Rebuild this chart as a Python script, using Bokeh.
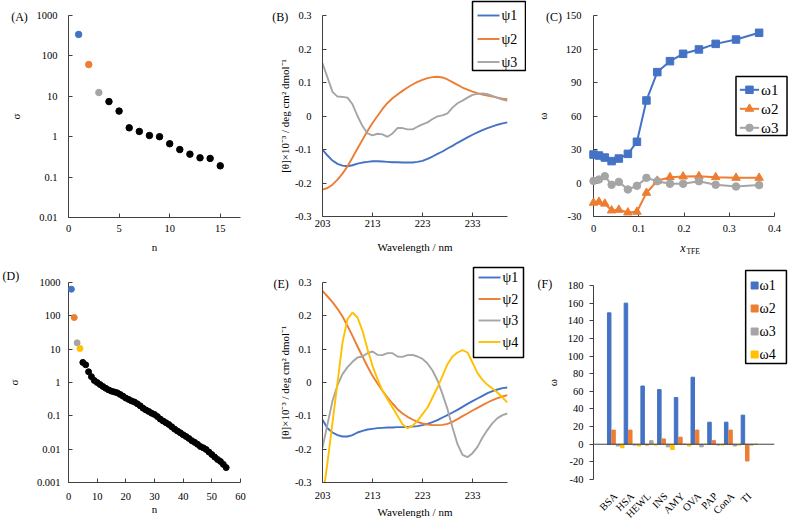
import math
from bokeh.plotting import figure
from bokeh.layouts import row, column
from bokeh.models import Range1d, FixedTicker, CustomJSTickFormatter, Span
from bokeh.core.properties import value
from bokeh.embed import file_html
from bokeh.resources import INLINE

# ---------------- data ----------------
# (A) singular values, first data set
a_n = [1, 2, 3, 4, 5, 6, 7, 8, 9, 10, 11, 12, 13, 14, 15]
a_sigma = [340, 61, 12.4, 7.4, 4.3, 1.66, 1.35, 1.07, 1.0, 0.67, 0.48, 0.37, 0.30, 0.29, 0.19]

# (B) basis spectra psi1..psi3
wl = [203, 204, 205, 206, 207, 208, 209, 210, 211, 212, 213, 214, 215, 216, 217, 218, 219,
      220, 221, 222, 223, 224, 225, 226, 227, 228, 229, 230, 231, 232, 233, 234, 235, 236,
      237, 238, 239, 240]
b_psi1 = [-0.100, -0.118, -0.133, -0.143, -0.148, -0.150, -0.147, -0.142, -0.139, -0.137,
          -0.135, -0.135, -0.136, -0.137, -0.138, -0.138, -0.139, -0.139, -0.139, -0.137,
          -0.134, -0.128, -0.121, -0.113, -0.106, -0.097, -0.089, -0.080, -0.072, -0.064,
          -0.056, -0.049, -0.042, -0.036, -0.031, -0.026, -0.022, -0.019]
b_psi2 = [-0.220, -0.215, -0.205, -0.190, -0.172, -0.150, -0.124, -0.097, -0.071, -0.045,
          -0.021, 0.000, 0.021, 0.039, 0.053, 0.064, 0.075, 0.085, 0.094, 0.102, 0.108,
          0.113, 0.116, 0.117, 0.115, 0.109, 0.101, 0.093, 0.085, 0.079, 0.073, 0.068,
          0.064, 0.061, 0.058, 0.055, 0.052, 0.050]
b_psi3 = [0.157, 0.115, 0.072, 0.058, 0.057, 0.055, 0.035, 0.000, -0.030, -0.052, -0.058,
          -0.053, -0.055, -0.062, -0.052, -0.036, -0.036, -0.040, -0.040, -0.032, -0.025,
          -0.019, -0.009, -0.001, 0.002, 0.008, 0.025, 0.038, 0.046, 0.055, 0.063, 0.066,
          0.067, 0.065, 0.060, 0.054, 0.049, 0.045]

# (C) weights vs TFE mole fraction
c_x = [0, 0.012, 0.025, 0.040, 0.056, 0.076, 0.096, 0.117, 0.141, 0.169, 0.198, 0.233,
       0.270, 0.315, 0.366]
c_w1 = [25.5, 24.6, 22.8, 19.6, 21.9, 26.1, 36.9, 73.9, 99.3, 109.1, 115.7, 119.6, 124.6,
        128.5, 134.5]
c_w2 = [-17.7, -16.9, -18.5, -24.6, -24.0, -26.4, -25.8, -8.8, 2.0, 5.2, 5.8, 6.1, 5.2,
        4.6, 4.6]
c_w3 = [1.9, 3.1, 6.1, -1.6, 1.0, -5.8, -2.5, 4.6, 1.6, -0.7, -0.7, 1.6, -1.6, -3.1, -1.9]

# (D) singular values, protein data set
d_n = list(range(1, 56))
d_sigma = [630, 89, 15.5, 10.5, 4.0, 3.4, 2.1, 1.5, 1.15, 1.0, 0.87, 0.76, 0.67, 0.60,
           0.55, 0.52, 0.49, 0.44, 0.39, 0.34, 0.31, 0.28, 0.26, 0.23, 0.20, 0.17, 0.15,
           0.135, 0.12, 0.11, 0.095, 0.08, 0.07, 0.062, 0.055, 0.047, 0.04, 0.035, 0.031,
           0.027, 0.024, 0.021, 0.018, 0.016, 0.014, 0.012, 0.011, 0.0098, 0.0082, 0.0069,
           0.0058, 0.0049, 0.0043, 0.0035, 0.0028]

# (E) basis spectra psi1..psi4
e_psi1 = [-0.112, -0.137, -0.150, -0.158, -0.162, -0.162, -0.158, -0.150, -0.145, -0.141,
          -0.139, -0.137, -0.136, -0.135, -0.135, -0.134, -0.134, -0.133, -0.132, -0.131,
          -0.128, -0.124, -0.119, -0.113, -0.105, -0.098, -0.090, -0.082, -0.073, -0.064,
          -0.056, -0.048, -0.040, -0.032, -0.026, -0.021, -0.017, -0.015]
e_psi2 = [0.275, 0.258, 0.241, 0.221, 0.198, 0.170, 0.140, 0.108, 0.078, 0.048, 0.020,
          -0.003, -0.025, -0.045, -0.063, -0.080, -0.093, -0.103, -0.111, -0.118, -0.123,
          -0.126, -0.128, -0.128, -0.127, -0.124, -0.118, -0.110, -0.101, -0.093, -0.084,
          -0.076, -0.068, -0.060, -0.053, -0.047, -0.042, -0.038]
e_psi3 = [-0.195, -0.125, -0.055, -0.008, 0.025, 0.046, 0.062, 0.075, 0.078, 0.088, 0.093,
          0.083, 0.082, 0.088, 0.088, 0.078, 0.077, 0.082, 0.083, 0.078, 0.071, 0.057,
          0.036, 0.006, -0.035, -0.080, -0.135, -0.185, -0.217, -0.224, -0.212, -0.193,
          -0.165, -0.142, -0.122, -0.107, -0.098, -0.093]
e_psi4 = [-0.350, -0.240, -0.120, 0.000, 0.120, 0.190, 0.210, 0.195, 0.155, 0.100, 0.050,
          0.010, -0.025, -0.050, -0.075, -0.100, -0.125, -0.137, -0.130, -0.115, -0.095,
          -0.075, -0.045, -0.015, 0.020, 0.055, 0.078, 0.090, 0.097, 0.090, 0.060, 0.028,
          0.008, -0.007, -0.018, -0.030, -0.045, -0.060]

# (F) weights per protein
proteins = ["BSA", "HSA", "HEWL", "INS", "AMY", "OVA", "PAP", "ConA", "TI"]
f_w1 = [149, 160, 66, 62, 53, 76, 25, 25, 33]
f_w2 = [16, 16, -1, 6, 8, 16, 4, 16, -19]
f_w3 = [-2, -1, 4, -3, 0, -3, -1, -2, -1]
f_w4 = [-4, -2, -1, -6, -2, 0, -1, -1, 0]

# ---------------- style ----------------
BLUE, ORANGE, GRAY, YELLOW, BLACK = "#4472C4", "#ED7D31", "#A5A5A5", "#FFC000", "#000000"
AX = "#404040"
SERIF = "Liberation Serif"
TICK_FS = "10.5px"
LW = 1.9
FMT = CustomJSTickFormatter(code="return String(Math.round(tick*1e6)/1e6);")


class Geo:
    """frame geometry in page pixels plus data ranges (for placing overlay items)"""
    def __init__(self, L, T, W, H, x0, x1, y0, y1, ylog=False):
        self.L, self.T, self.W, self.H = L, T, W, H
        self.x0, self.x1, self.y0, self.y1, self.ylog = x0, x1, y0, y1, ylog

    def dx(self, px):
        return self.x0 + (px - self.L) / self.W * (self.x1 - self.x0)

    def dy(self, py):
        f = (self.T + self.H - py) / self.H
        if self.ylog:
            a, b = math.log10(self.y0), math.log10(self.y1)
            return 10 ** (a + f * (b - a))
        return self.y0 + f * (self.y1 - self.y0)


def panel(fig_x, fig_y, width, height, g):
    left, top = g.L - fig_x, g.T - fig_y
    p = figure(width=width, height=height,
               x_range=Range1d(g.x0, g.x1), y_range=Range1d(g.y0, g.y1),
               y_axis_type="log" if g.ylog else "linear",
               output_backend="svg", toolbar_location=None,
               min_border_left=left, min_border_right=width - left - g.W,
               min_border_top=top, min_border_bottom=height - top - g.H)
    p.outline_line_color = None
    p.grid.visible = False
    p.background_fill_color = "white"
    p.border_fill_color = "white"
    for ax in p.axis:
        ax.axis_line_color = AX
        ax.axis_line_width = 1
        ax.major_tick_line_color = AX
        ax.minor_tick_line_color = None
        ax.major_tick_in = 4
        ax.major_tick_out = 0
        ax.major_label_text_font = SERIF
        ax.major_label_text_font_size = TICK_FS
        ax.major_label_text_color = "black"
        ax.axis_label_text_font = SERIF
        ax.axis_label_text_font_style = "normal"
        ax.axis_label_text_font_size = "11px"
        ax.axis_label_text_color = "black"
        ax.formatter = FMT
    return p


def put_text(p, g, px, py, text, size="12px", style="normal"):
    p.text(x=[g.dx(px)], y=[g.dy(py)], text=[text], text_font=value(SERIF),
           text_font_size=value(size), text_font_style=value(style),
           text_align=value("left"), text_baseline=value("middle"),
           text_color="black", level="overlay")


def legend_box(p, g, l, t, r, b):
    p.quad(left=[g.dx(l)], right=[g.dx(r)], top=[g.dy(t)], bottom=[g.dy(b)],
           fill_color="white", line_color="black", line_width=1.5, level="overlay")


# ---------------- (A) ----------------
gA = Geo(62, 15, 180, 202, 0, 17, 0.01, 1000, ylog=True)
pa = panel(0, 0, 266, 262, gA)
pa.xaxis.ticker = FixedTicker(ticks=[0, 5, 10, 15])
pa.yaxis.ticker = FixedTicker(ticks=[0.01, 0.1, 1, 10, 100, 1000])
pa.xaxis.axis_label = "n"
pa.yaxis.axis_label = "σ"
pa.yaxis.major_label_standoff = 11
pa.yaxis.axis_label_standoff = 12
pa.xaxis.major_label_standoff = 7
pa.xaxis.axis_label_standoff = 6
a_colors = [BLUE, ORANGE, GRAY] + [BLACK] * (len(a_n) - 3)
pa.scatter(a_n, a_sigma, size=6.5, color=a_colors, level="overlay")
put_text(pa, gA, 2, 16, "(A)")

# ---------------- (B) ----------------
gB = Geo(322, 15, 185, 201, 203, 240, -0.3, 0.3)
pb = panel(266, 0, 260, 262, gB)
pb.xaxis.ticker = FixedTicker(ticks=[203, 213, 223, 233])
pb.yaxis.ticker = FixedTicker(ticks=[-0.3, -0.2, -0.1, 0, 0.1, 0.2, 0.3])
pb.xaxis.axis_label = "Wavelength / nm"
pb.yaxis.axis_label = "[θ]×10⁻³ / deg cm² dmol⁻¹"
pb.yaxis.major_label_standoff = 11
pb.yaxis.axis_label_standoff = 1
pb.xaxis.major_label_standoff = 3
pb.xaxis.axis_label_standoff = 11
pb.line(wl, b_psi1, color=BLUE, line_width=LW)
pb.line(wl, b_psi2, color=ORANGE, line_width=LW)
pb.line(wl, b_psi3, color=GRAY, line_width=LW)
legend_box(pb, gB, 472, 1, 525, 70)
for lab, col, yy in zip(["ψ1", "ψ2", "ψ3"], [BLUE, ORANGE, GRAY], [15, 38.5, 61.5]):
    pb.line([gB.dx(477), gB.dx(499)], [gB.dy(yy)] * 2, color=col, line_width=LW,
            level="overlay")
    put_text(pb, gB, 501, yy, lab, size="14px")
put_text(pb, gB, 271.7, 16.7, "(B)")

# ---------------- (C) ----------------
gC = Geo(586, 15, 188, 201, 0, 0.4, -30, 150)
pc = panel(526, 0, 262, 262, gC)
pc.xaxis.ticker = FixedTicker(ticks=[0, 0.1, 0.2, 0.3, 0.4])
pc.yaxis.ticker = FixedTicker(ticks=[-30, 0, 30, 60, 90, 120, 150])
pc.yaxis.axis_label = "ω"
pc.yaxis.major_label_standoff = 12
pc.yaxis.axis_label_standoff = 14
pc.xaxis.major_label_standoff = 8
pc.line(c_x, c_w1, color=BLUE, line_width=2)
pc.line(c_x, c_w2, color=ORANGE, line_width=2)
pc.line(c_x, c_w3, color=GRAY, line_width=2)
pc.scatter(c_x, c_w1, marker="square", size=7.5, color=BLUE, level="overlay")
pc.scatter(c_x, c_w2, marker="triangle", size=8.5, color=ORANGE, level="overlay")
pc.scatter(c_x, c_w3, marker="circle", size=7.5, color=GRAY, level="overlay")
legend_box(pc, gC, 734, 76, 787, 135)
for lab, col, mk, sz, yy in zip(["ω1", "ω2", "ω3"], [BLUE, ORANGE, GRAY],
                                ["square", "triangle", "circle"], [7.5, 8.5, 7.5],
                                [89.3, 108.3, 127.3]):
    pc.line([gC.dx(738), gC.dx(758)], [gC.dy(yy)] * 2, color=col, line_width=2,
            level="overlay")
    pc.scatter([gC.dx(748)], [gC.dy(yy)], marker=mk, size=sz, color=col, level="overlay")
    put_text(pc, gC, 760, yy, lab, size="15px")
put_text(pc, gC, 536.7, 16.7, "(C)")
put_text(pc, gC, 676, 247, "x", size="12px", style="italic")
put_text(pc, gC, 682.5, 251, "TFE", size="7.5px")

# ---------------- (D) ----------------
gD = Geo(68, 282, 172, 200, 0, 60, 0.001, 1000, ylog=True)
pd_ = panel(0, 262, 266, 260, gD)
pd_.xaxis.ticker = FixedTicker(ticks=[0, 10, 20, 30, 40, 50, 60])
pd_.yaxis.ticker = FixedTicker(ticks=[0.001, 0.01, 0.1, 1, 10, 100, 1000])
pd_.xaxis.axis_label = "n"
pd_.yaxis.axis_label = "σ"
pd_.yaxis.major_label_standoff = 8
pd_.yaxis.axis_label_standoff = 14
pd_.xaxis.major_label_standoff = 10
pd_.xaxis.axis_label_standoff = 0
d_colors = [BLUE, ORANGE, GRAY, YELLOW] + [BLACK] * (len(d_n) - 4)
pd_.scatter(d_n, d_sigma, size=6, color=d_colors, level="overlay")
put_text(pd_, gD, 2, 275, "(D)")

# ---------------- (E) ----------------
gE = Geo(322, 282, 185, 200, 203, 240, -0.3, 0.3)
pe = panel(266, 262, 260, 260, gE)
pe.xaxis.ticker = FixedTicker(ticks=[203, 213, 223, 233])
pe.yaxis.ticker = FixedTicker(ticks=[-0.3, -0.2, -0.1, 0, 0.1, 0.2, 0.3])
pe.xaxis.axis_label = "Wavelength / nm"
pe.yaxis.axis_label = "[θ]×10⁻³ / deg cm² dmol⁻¹"
pe.yaxis.major_label_standoff = 11
pe.yaxis.axis_label_standoff = 1
pe.xaxis.major_label_standoff = 9
pe.xaxis.axis_label_standoff = 4
pe.line(wl, e_psi1, color=BLUE, line_width=LW)
pe.line(wl, e_psi2, color=ORANGE, line_width=LW)
pe.line(wl, e_psi3, color=GRAY, line_width=LW)
pe.line(wl, e_psi4, color=YELLOW, line_width=LW)
legend_box(pe, gE, 473, 267, 523, 357)
for lab, col, yy in zip(["ψ1", "ψ2", "ψ3", "ψ4"], [BLUE, ORANGE, GRAY, YELLOW],
                        [277, 298.5, 320, 341.5]):
    pe.line([gE.dx(478), gE.dx(500)], [gE.dy(yy)] * 2, color=col, line_width=LW,
            level="overlay")
    put_text(pe, gE, 502, yy, lab, size="14px")
put_text(pe, gE, 273, 283, "(E)")

# ---------------- (F) ----------------
gF = Geo(593, 285, 182, 194, -1.33, 9.5, -40, 180)
pf = panel(526, 262, 262, 260, gF)
pf.yaxis.ticker = FixedTicker(ticks=[-40, -20, 0, 20, 40, 60, 80, 100, 120, 140, 160, 180])
pf.yaxis.major_tick_in = 0
pf.yaxis.major_tick_out = 4
pf.yaxis.major_label_standoff = 6
pf.yaxis.axis_label = "ω"
pf.yaxis.axis_label_standoff = 6
pf.xaxis.visible = False
pf.add_layout(Span(location=0, dimension="width", line_color=AX, line_width=1))
idx = list(range(len(proteins)))
offs = [-0.39, -0.13, 0.13, 0.39]
series = [f_w1, f_w2, f_w3, f_w4]
cols = [BLUE, ORANGE, GRAY, YELLOW]
for s, o, c in zip(series, offs, cols):
    pf.vbar(x=[k + o for k in idx], top=s, width=0.21, color=c)
# category labels, slanted 45 degrees below the plot
pf.text(x=idx, y=[gF.dy(494)] * len(idx), text=proteins, angle=math.pi / 4,
        text_font=value(SERIF), text_font_size=value("10.5px"),
        text_align=value("right"), text_baseline=value("middle"),
        text_color="black", level="overlay")
legend_box(pf, gF, 746, 270, 787, 363)
for lab, col, yy in zip(["ω1", "ω2", "ω3", "ω4"], cols, [285, 308, 331, 354]):
    pf.scatter([gF.dx(755)], [gF.dy(yy)], marker="square", size=7, color=col,
               level="overlay")
    put_text(pf, gF, 760, yy, lab, size="14px")
put_text(pf, gF, 536.7, 283, "(F)")

layout = row(column(pa, pd_), column(pb, pe), column(pc, pf))
open("out.html", "w").write(file_html(layout, INLINE))
